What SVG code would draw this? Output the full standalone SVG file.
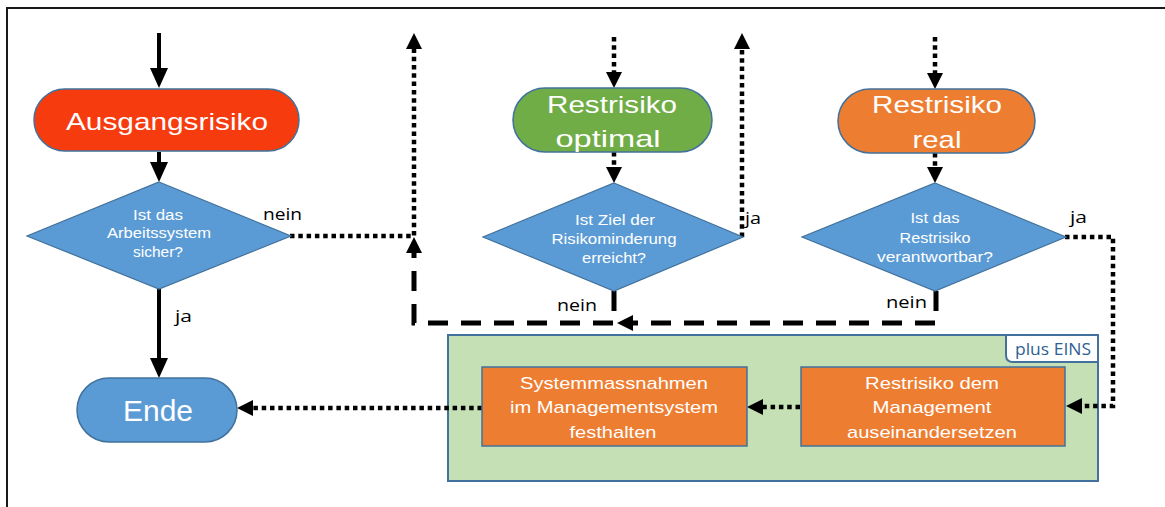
<svg xmlns="http://www.w3.org/2000/svg" width="1165" height="507" viewBox="0 0 1165 507">
  <style>
    .bg { fill: #ffffff; }
    .frame { fill: none; stroke: #1a1a1a; stroke-width: 2; }
    .term { stroke: #41719C; stroke-width: 1.5; }
    .red { fill: #F63C0F; }
    .green { fill: #70AD47; }
    .orange { fill: #ED7D31; }
    .blue { fill: #5B9BD5; }
    .dec { fill: #5B9BD5; stroke: #41719C; stroke-width: 1.2; }
    .box { fill: #ED7D31; stroke: #41719C; stroke-width: 1.5; }
    .group { fill: #C5E0B4; stroke: #41719C; stroke-width: 2; }
    .tab { fill: #ffffff; stroke: #41719C; stroke-width: 2; }
    .t { font-family: "Liberation Sans", Arial, sans-serif; fill: #ffffff; text-anchor: middle; }
    .big { font-size: 24px; }
    .ende { font-size: 30px; }
    .q { font-size: 14px; }
    .bx { font-size: 17px; }
    .lbl { font-family: "Open Sans", "Noto Sans", sans-serif; font-size: 16px; fill: #000000; }
    .tabt { font-family: "Open Sans", "Noto Sans", sans-serif; font-size: 16px; fill: #2F5F93; }
    .solid { fill: none; stroke: #000; stroke-width: 4; marker-end: url(#a-big); }
    .dot { fill: none; stroke: #000; stroke-width: 4.5; stroke-dasharray: 4.5 3.8; marker-end: url(#a-sm); }
    .dash { fill: none; stroke: #000; stroke-width: 5; stroke-dasharray: 20 13; marker-end: url(#a-sm); }
  </style>
  <defs>
    <marker id="a-big" markerUnits="userSpaceOnUse" markerWidth="20" markerHeight="18" refX="12" refY="9" orient="auto">
      <path d="M0,0 L20,9 L0,18 z" fill="#000"/>
    </marker>
    <marker id="a-sm" markerUnits="userSpaceOnUse" markerWidth="16" markerHeight="16" refX="9" refY="8" orient="auto">
      <path d="M0,0 L16,8 L0,16 z" fill="#000"/>
    </marker>
  </defs>

  <rect class="bg" x="0" y="0" width="1165" height="507"/>
  <path class="frame" d="M7,507 L7,8 L1165,8"/>

  <!-- grouping area -->
  <g id="plus-eins">
    <rect class="group" x="448" y="335" width="650" height="146"/>
    <path class="tab" d="M1006,335 L1006,355 Q1006,362 1013,362 L1098,362 L1098,335 z"/>
    <text class="tabt" x="1053" y="355" text-anchor="middle" textLength="76" lengthAdjust="spacingAndGlyphs">plus EINS</text>
  </g>

  <!-- connectors -->
  <g id="connectors">
    <path class="solid" d="M159,33 L159,80"/>
    <path class="solid" d="M159,152 L159,174"/>
    <path class="solid" d="M159,288 L159,370"/>
    <path class="dot" d="M614,37 L614,81"/>
    <path class="dot" d="M614,152 L614,176"/>
    <path class="dot" d="M935,37 L935,82"/>
    <path class="dot" d="M935,153 L935,176"/>
    <path class="dot" d="M290,236 L414,236 L414,40"/>
    <path class="dash" d="M614,291 L614,323 L414,323 L414,244"/>
    <path class="dash" d="M936,291 L936,323 L624,323"/>
    <path class="dot" d="M742,237 L742,40"/>
    <path class="dot" d="M1065,237 L1113,237 L1113,406 L1073,406"/>
    <path class="dot" d="M800,407 L754,407"/>
    <path class="dot" d="M482,408 L244,408"/>
  </g>

  <!-- labels on connectors -->
  <g id="labels">
    <text class="lbl" x="263" y="220" textLength="39" lengthAdjust="spacingAndGlyphs">nein</text>
    <text class="lbl" x="175" y="322" textLength="17" lengthAdjust="spacingAndGlyphs">ja</text>
    <text class="lbl" x="557" y="311" textLength="40" lengthAdjust="spacingAndGlyphs">nein</text>
    <text class="lbl" x="745" y="224" textLength="16" lengthAdjust="spacingAndGlyphs">ja</text>
    <text class="lbl" x="1070" y="223" textLength="17" lengthAdjust="spacingAndGlyphs">ja</text>
    <text class="lbl" x="886" y="308" textLength="41" lengthAdjust="spacingAndGlyphs">nein</text>
  </g>

  <g id="ausgangsrisiko">
    <rect class="term red" x="34" y="89" width="265" height="62" rx="31"/>
    <text class="t big" x="167" y="130" textLength="202" lengthAdjust="spacingAndGlyphs">Ausgangsrisiko</text>
  </g>

  <g id="restrisiko-optimal">
    <rect class="term green" x="513" y="88" width="199" height="64" rx="32"/>
    <text class="t big" x="612" y="113" textLength="130" lengthAdjust="spacingAndGlyphs">Restrisiko</text>
    <text class="t big" x="608" y="147" textLength="105" lengthAdjust="spacingAndGlyphs">optimal</text>
  </g>

  <g id="restrisiko-real">
    <rect class="term orange" x="838" y="89" width="197" height="64" rx="32"/>
    <text class="t big" x="937" y="113" textLength="130" lengthAdjust="spacingAndGlyphs">Restrisiko</text>
    <text class="t big" x="937" y="148" textLength="49" lengthAdjust="spacingAndGlyphs">real</text>
  </g>

  <g id="frage-sicher">
    <polygon class="dec" points="159,182 291,236 159,289 27,236"/>
    <text class="t q" x="158" y="220" textLength="50" lengthAdjust="spacingAndGlyphs">Ist das</text>
    <text class="t q" x="159" y="238" textLength="104" lengthAdjust="spacingAndGlyphs">Arbeitssystem</text>
    <text class="t q" x="158" y="257" textLength="50" lengthAdjust="spacingAndGlyphs">sicher?</text>
  </g>

  <g id="frage-ziel">
    <polygon class="dec" points="614,183 743,237 614,291 483,237"/>
    <text class="t q" x="615" y="225" textLength="80" lengthAdjust="spacingAndGlyphs">Ist Ziel der</text>
    <text class="t q" x="614" y="244" textLength="125" lengthAdjust="spacingAndGlyphs">Risikominderung</text>
    <text class="t q" x="614" y="263" textLength="64" lengthAdjust="spacingAndGlyphs">erreicht?</text>
  </g>

  <g id="frage-verantwortbar">
    <polygon class="dec" points="935,183 1066,237 935,291 802,237"/>
    <text class="t q" x="935" y="223" textLength="49" lengthAdjust="spacingAndGlyphs">Ist das</text>
    <text class="t q" x="935" y="243" textLength="71" lengthAdjust="spacingAndGlyphs">Restrisiko</text>
    <text class="t q" x="935" y="262" textLength="116" lengthAdjust="spacingAndGlyphs">verantwortbar?</text>
  </g>

  <g id="ende">
    <rect class="term blue" x="77" y="378" width="160" height="64" rx="32"/>
    <text class="t ende" x="158" y="421" textLength="70" lengthAdjust="spacingAndGlyphs">Ende</text>
  </g>

  <g id="systemmassnahmen">
    <rect class="box" x="482" y="367" width="265" height="79"/>
    <text class="t bx" x="614" y="389" textLength="188" lengthAdjust="spacingAndGlyphs">Systemmassnahmen</text>
    <text class="t bx" x="614" y="413" textLength="208" lengthAdjust="spacingAndGlyphs">im Managementsystem</text>
    <text class="t bx" x="613" y="438" textLength="87" lengthAdjust="spacingAndGlyphs">festhalten</text>
  </g>

  <g id="restrisiko-management">
    <rect class="box" x="801" y="367" width="264" height="79"/>
    <text class="t bx" x="932" y="389" textLength="134" lengthAdjust="spacingAndGlyphs">Restrisiko dem</text>
    <text class="t bx" x="932" y="413" textLength="119" lengthAdjust="spacingAndGlyphs">Management</text>
    <text class="t bx" x="932" y="438" textLength="170" lengthAdjust="spacingAndGlyphs">auseinandersetzen</text>
  </g>
</svg>
